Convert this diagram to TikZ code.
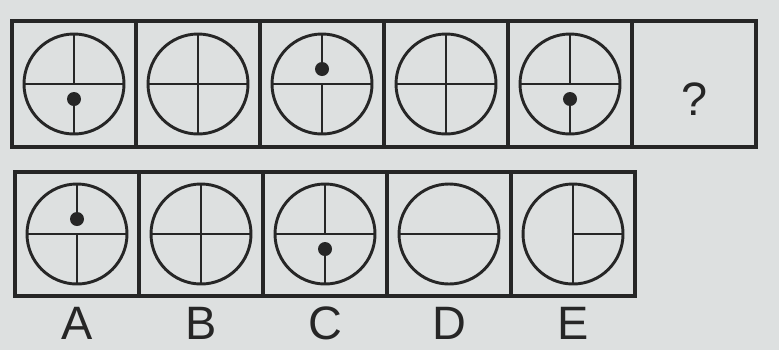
\documentclass[tikz,border=0pt]{standalone}
\usepackage{fontspec}
\setmainfont{Liberation Sans}
\usepackage{tikz}
\usetikzlibrary{positioning}
\definecolor{cInk}{HTML}{262626}
\definecolor{cPaper}{HTML}{DDE0E0}
\tikzset{
  cell/.style={draw=cInk, line width=2.9pt, minimum width=3.72cm, minimum height=#1,
               inner sep=0pt, outer sep=0pt},
  cell/.default=3.78cm,
  dial/.style={circle, draw=cInk, line width=2.5pt, minimum size=3cm, inner sep=0pt, outer sep=0pt},
  blob/.style={circle, fill=cInk, minimum size=0.42cm, inner sep=0pt, outer sep=0pt},
  spoke/.style={draw=cInk, line width=2.3pt},
  lbl/.style={anchor=base, text=cInk, font=\fontsize{40}{40}\selectfont, inner sep=0pt},
}
\begin{document}
\begin{tikzpicture}[x=0.03cm, y=-0.03cm]
\fill[cPaper] (0,0) rectangle (779,350);
\useasboundingbox (0,0) rectangle (779,350);
% sequence row
\node[cell] (t1) at (74,84) {};
\node[cell, right=0pt of t1] (t2) {};
\node[cell, right=0pt of t2] (t3) {};
\node[cell, right=0pt of t3] (t4) {};
\node[cell, right=0pt of t4] (t5) {};
\node[cell, right=0pt of t5] (t6) {};
\node[lbl] (ask) at ([yshift=-0.93cm]t6.center) {?};
% answer row
\node[cell=3.72cm] (b1) at (77,234) {};
\node[cell=3.72cm, right=0pt of b1] (b2) {};
\node[cell=3.72cm, right=0pt of b2] (b3) {};
\node[cell=3.72cm, right=0pt of b3] (b4) {};
\node[cell=3.72cm, right=0pt of b4] (b5) {};
\node[lbl] (la) at ([yshift=-1.29cm]b1.south) {A};
\node[lbl] (lb) at ([yshift=-1.29cm]b2.south) {B};
\node[lbl] (lc) at ([yshift=-1.29cm]b3.south) {C};
\node[lbl] (ld) at ([yshift=-1.29cm]b4.south) {D};
\node[lbl] (le) at ([yshift=-1.29cm]b5.south) {E};
% dials of the sequence
\node[dial] (q1) at (t1) {};
\node[dial] (q2) at (t2) {};
\node[dial] (q3) at (t3) {};
\node[dial] (q4) at (t4) {};
\node[dial] (q5) at (t5) {};
\node[blob] (d1) at ([yshift=-0.45cm]q1.center) {};
\node[blob] (d3) at ([yshift=0.45cm]q3.center) {};
\node[blob] (d5) at ([yshift=-0.45cm]q5.center) {};
\draw[spoke] (q1.west) -- (q1.east) (q1.north) -- (q1.center) (d1) -- (q1.south);
\draw[spoke] (q2.west) -- (q2.east) (q2.north) -- (q2.south);
\draw[spoke] (q3.west) -- (q3.east) (q3.north) -- (d3) (q3.center) -- (q3.south);
\draw[spoke] (q4.west) -- (q4.east) (q4.north) -- (q4.south);
\draw[spoke] (q5.west) -- (q5.east) (q5.north) -- (q5.center) (d5) -- (q5.south);
% dials of the answers
\node[dial] (oa) at (b1) {};
\node[dial] (ob) at (b2) {};
\node[dial] (oc) at (b3) {};
\node[dial] (od) at (b4) {};
\node[dial] (oe) at (b5) {};
\node[blob] (da) at ([yshift=0.45cm]oa.center) {};
\node[blob] (dc) at ([yshift=-0.45cm]oc.center) {};
\draw[spoke] (oa.west) -- (oa.east) (oa.north) -- (da) (oa.center) -- (oa.south);
\draw[spoke] (ob.west) -- (ob.east) (ob.north) -- (ob.south);
\draw[spoke] (oc.west) -- (oc.east) (oc.north) -- (oc.center) (dc) -- (oc.south);
\draw[spoke] (od.west) -- (od.east);
\draw[spoke] (oe.center) -- (oe.east) (oe.north) -- (oe.south);
\end{tikzpicture}
\end{document}
